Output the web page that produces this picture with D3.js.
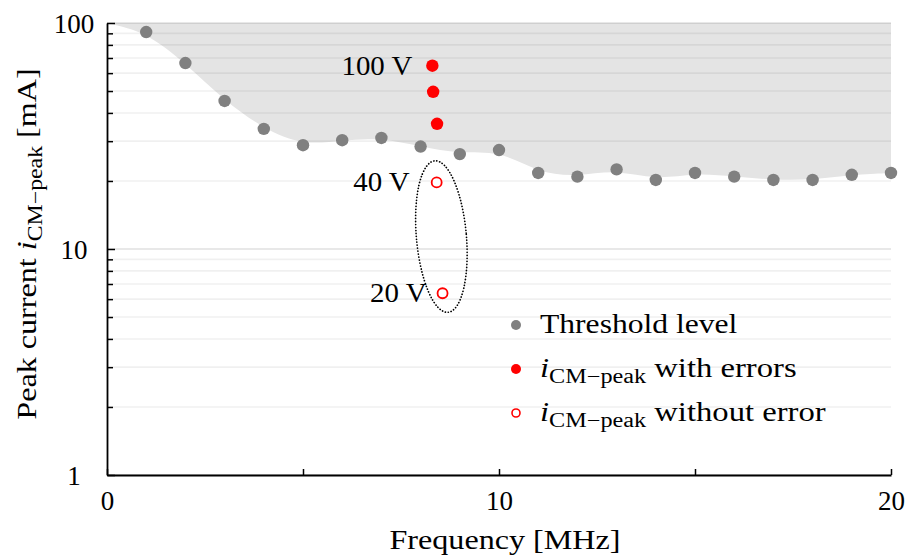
<!DOCTYPE html>
<html>
<head>
<meta charset="utf-8">
<script src="https://cdn.jsdelivr.net/npm/d3@7"></script>
<style>
  body { margin: 0; background: #fff; }
  svg text { font-family: "Liberation Serif", "Times New Roman", serif; fill: #000; }
</style>
</head>
<body>
<div id="chart"></div>
<script>
// threshold level (grey dots), measured at integer frequencies
const freq = [1, 2, 3, 4, 5, 6, 7, 8, 9, 10, 11, 12, 13, 14, 15, 16, 17, 18, 19, 20];
const threshold = [91.2, 66.5, 45.2, 34.0, 28.8, 30.3, 31.0, 28.4, 26.3, 27.4,
                   21.7, 20.9, 22.5, 20.2, 21.7, 20.9, 20.2, 20.2, 21.3, 21.7];
// iCM-peak with errors
const errFreq = [8.30, 8.32, 8.42];
const errPeak = [64.7, 49.6, 35.8];
// iCM-peak without error
const okFreq = [8.41, 8.56];
const okPeak = [19.7, 6.37];
// voltage annotations
const voltLabels = ["100 V", "40 V", "20 V"];
const voltFreq = [8.30, 8.41, 8.56];
const voltPeak = [64.7, 19.7, 6.37];
const voltShift = [-20, -27, -16];
// ellipse around the error-free points (centre in data units)
const ellipseCenter = [8.53, 11.35];

const xTicks = [0, 5, 10, 15, 20];
const xTickLabels = [0, 10, 20];
const yTickLabels = [1, 10, 100];

const W = 906, H = 558;
const margin = { top: 23, right: 15, bottom: 83, left: 107 };
const width = W - margin.left - margin.right,
  height = H - margin.top - margin.bottom;

// the original font (Palatino) is wider than Liberation Serif
const stretch = function (sel, k) {
  sel.each(function () {
    const w = this.getComputedTextLength();
    d3.select(this).attr("textLength", w * k).attr("lengthAdjust", "spacingAndGlyphs");
  });
};

const svg = d3.select("#chart").append("svg")
  .attr("width", W).attr("height", H);
const g = svg.append("g")
  .attr("transform", "translate(" + margin.left + "," + margin.top + ")");

const x = d3.scaleLinear().domain([0, 20]).range([0, width]);
const y = d3.scaleLog().domain([1, 100]).range([height, 0]);

// grey region above the threshold
const areaPts = [[0, 100]].concat(freq.map((f, i) => [f, threshold[i]]));
g.append("path")
  .datum(areaPts)
  .attr("fill", "#e4e4e4")
  .attr("d", d3.area()
    .x((d) => x(d[0]))
    .y0(y(100))
    .y1((d) => y(d[1]))
    .curve(d3.curveBasis));

// horizontal grid
const gridVals = y.ticks();
g.selectAll(".grid")
  .data(gridVals)
  .join("line")
  .attr("class", "grid")
  .attr("x1", 0).attr("x2", width)
  .attr("y1", (d) => y(d)).attr("y2", (d) => y(d))
  .attr("stroke", (d) => (yTickLabels.includes(d) ? "rgba(0,0,0,0.12)" : "rgba(0,0,0,0.06)"))
  .attr("stroke-width", 1.6);

// axes
const yAxis = g.append("g")
  .call(d3.axisLeft(y)
    .tickValues(gridVals)
    .tickSizeInner(-6)
    .tickSizeOuter(0)
    .tickFormat((d) => (yTickLabels.includes(d) ? d : "")));
yAxis.selectAll(".tick line")
  .attr("x2", (d) => (yTickLabels.includes(d) ? 8 : 6))
  .attr("stroke-width", 1.5);
yAxis.selectAll(".tick text")
  .attr("x", -33).attr("dy", "0.35em")
  .attr("text-anchor", "middle")
  .style("font-size", "27px")
  .style("font-family", "Liberation Serif");
yAxis.select(".domain").attr("stroke-width", 1.8);

const xAxis = g.append("g")
  .attr("transform", "translate(0," + height + ")")
  .call(d3.axisBottom(x)
    .tickValues(xTicks)
    .tickSizeInner(-6)
    .tickSizeOuter(0)
    .tickFormat((d) => (xTickLabels.includes(d) ? d : "")));
xAxis.selectAll(".tick line").attr("stroke-width", 1.5);
xAxis.selectAll(".tick text")
  .attr("y", 35).attr("dy", 0)
  .style("font-size", "27px")
  .style("font-family", "Liberation Serif");
xAxis.select(".domain").attr("stroke-width", 1.8);

// threshold dots
g.selectAll(".thr")
  .data(freq)
  .join("circle")
  .attr("class", "thr")
  .attr("cx", (d) => x(d))
  .attr("cy", (d, i) => y(threshold[i]))
  .attr("r", 6.2)
  .attr("fill", "#808080");

// ellipse
const ec = [x(ellipseCenter[0]), y(ellipseCenter[1])];
g.append("ellipse")
  .attr("transform", "translate(" + ec[0] + "," + ec[1] + ") rotate(-5)")
  .attr("rx", 25).attr("ry", 76)
  .attr("fill", "none")
  .attr("stroke", "#000")
  .attr("stroke-width", 1.7)
  .attr("stroke-linecap", "round")
  .attr("stroke-dasharray", "0.1 2.9");

// with errors
g.selectAll(".err")
  .data(errFreq)
  .join("circle")
  .attr("class", "err")
  .attr("cx", (d) => x(d))
  .attr("cy", (d, i) => y(errPeak[i]))
  .attr("r", 6.2)
  .attr("fill", "#ff0000");

// without error
g.selectAll(".ok")
  .data(okFreq)
  .join("circle")
  .attr("class", "ok")
  .attr("cx", (d) => x(d))
  .attr("cy", (d, i) => y(okPeak[i]))
  .attr("r", 5)
  .attr("fill", "#fff")
  .attr("stroke", "#ff0000")
  .attr("stroke-width", 1.8);

// voltage labels
g.selectAll(".volt")
  .data(voltLabels)
  .join("text")
  .attr("class", "volt")
  .attr("x", (d, i) => x(voltFreq[i]) + voltShift[i])
  .attr("y", (d, i) => y(voltPeak[i]))
  .attr("dy", "0.33em")
  .attr("text-anchor", "end")
  .style("font-size", "27px")
  .text((d) => d)
  .call(stretch, 1.07);

// legend
const legend = g.append("g").attr("transform", "translate(409,302)");
const legItems = [
  { fill: "#808080", stroke: "none", r: 5, sub: false, text: "Threshold level" },
  { fill: "#ff0000", stroke: "none", r: 5, sub: true, text: " with errors" },
  { fill: "#fff", stroke: "#ff0000", r: 4, sub: true, text: " without error" },
];
legItems.forEach((it, i) => {
  const row = legend.append("g").attr("transform", "translate(0," + i * 44 + ")");
  row.append("circle")
    .attr("r", it.r)
    .attr("fill", it.fill)
    .attr("stroke", it.stroke)
    .attr("stroke-width", 1.6);
  const t = row.append("text")
    .attr("x", 24).attr("dy", "0.3em")
    .style("font-size", "27px");
  if (it.sub) {
    t.append("tspan").style("font-style", "italic").text("i");
    t.append("tspan").attr("dy", 6).style("font-size", "20px").text("CM\u2212peak");
    t.append("tspan").attr("dy", -6).text(it.text);
  } else {
    t.text(it.text);
  }
  t.call(stretch, it.sub ? 1.21 : 1.17);
});

// axis titles
svg.append("text")
  .attr("x", margin.left + width / 2 + 6)
  .attr("y", 549)
  .attr("text-anchor", "middle")
  .style("font-size", "27px")
  .text("Frequency [MHz]")
  .call(stretch, 1.19);

const yt = svg.append("text")
  .attr("transform", "translate(36," + (margin.top + height / 2 - 5) + ") rotate(-90)")
  .attr("text-anchor", "middle")
  .style("font-size", "27px");
yt.append("tspan").text("Peak current ");
yt.append("tspan").style("font-style", "italic").text("i");
yt.append("tspan").attr("dy", 6).style("font-size", "20px").text("CM\u2212peak");
yt.append("tspan").attr("dy", -6).text(" [mA]");
yt.call(stretch, 1.19);
</script>
</body>
</html>
